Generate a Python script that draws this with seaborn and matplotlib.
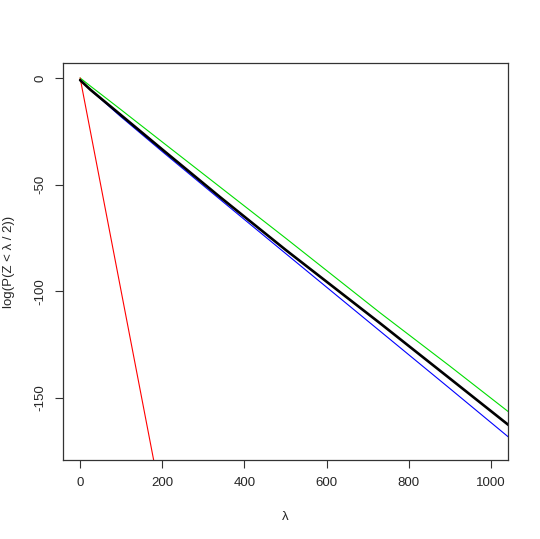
import numpy as np
import pandas as pd
import matplotlib
matplotlib.use("Agg")
import matplotlib.pyplot as plt
import seaborn as sns

# values
lam_red = [0, 100, 179, 200]
red = [0, -100, -179, -200]

lam = [0, 25, 50, 97, 200, 340, 500, 730, 900, 1050]
green = [0, -3.8, -7.5, -14.5, -30, -51, -75, -110, -135, -157.5]
black = [-1, -5.5, -9.5, -17, -33.5, -55.7, -80.5, -114.9, -140.8, -163.7]
blue = [-1, -5.6, -9.8, -17.8, -34.5, -56.8, -82.2, -118.6, -145.5, -169.4]

xticks = [0, 200, 400, 600, 800, 1000]
yticks = [0, -50, -100, -150]

sns.set_theme(style="ticks")
plt.rcParams['font.family'] = ['Liberation Sans', 'DejaVu Sans']

fig = plt.figure(figsize=(5.4, 5.39), dpi=100)
ax = fig.add_axes([0.1167, 0.1466, 0.824, 0.7365])

df = pd.DataFrame({"lam": lam, "green": green, "black": black, "blue": blue})
red_df = pd.DataFrame({"lam": lam_red, "red": red})

sns.lineplot(data=df, x="lam", y="blue", color="#0000ff", lw=0.8, ax=ax, sort=False, estimator=None)
sns.lineplot(data=df, x="lam", y="green", color="#00dd00", lw=0.8, ax=ax, sort=False, estimator=None)
sns.lineplot(data=red_df, x="lam", y="red", color="#ff0000", lw=0.8, ax=ax, sort=False, estimator=None)
sns.lineplot(data=df, x="lam", y="black", color="black", lw=1.9, ax=ax, sort=False, estimator=None)

ax.set_xlim(-41.6, 1041.6)
ax.set_ylim(-179, 7)
ax.set_xticks(xticks)
ax.set_yticks(yticks)
ax.set_xticklabels([str(t) for t in xticks], fontsize=9.5)
ax.set_yticklabels([str(t) for t in yticks], fontsize=9.5, rotation=90, va="center")
ax.tick_params(length=6, width=0.8, color="#333333", pad=6)
for s in ax.spines.values():
    s.set_visible(True)
    s.set_color("#333333")
    s.set_linewidth(0.9)

ax.set_xlabel("λ", fontsize=9.5, labelpad=16)
ax.set_ylabel("log(P(Z < λ / 2))", fontsize=9.5, labelpad=14)

fig.savefig("out.png", dpi=100)
